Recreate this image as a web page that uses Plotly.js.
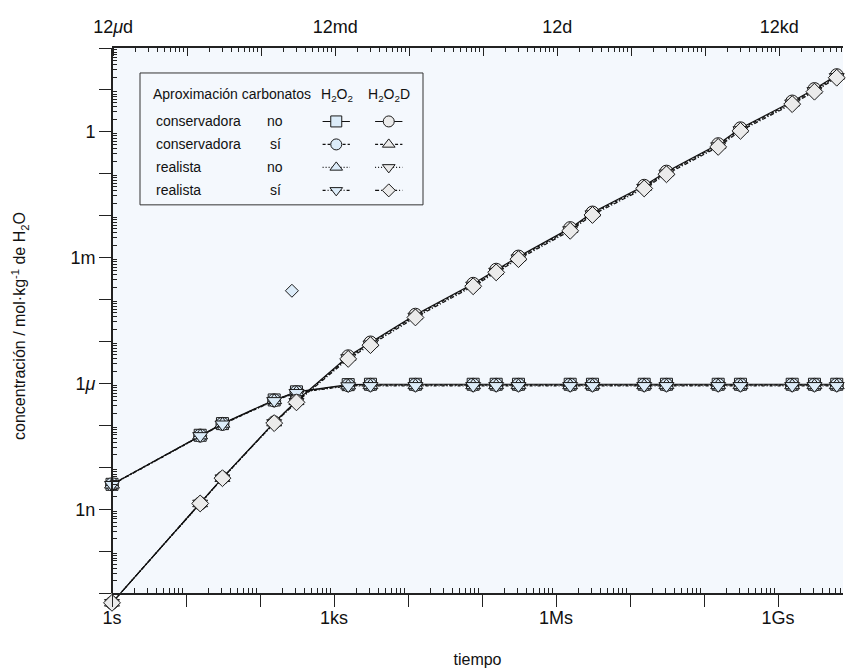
<!DOCTYPE html>
<html><head><meta charset="utf-8">
<script src="https://cdn.plot.ly/plotly-3.0.1.min.js"></script>
<style>body{margin:0;background:#fff}</style>
</head><body><div id="chart" style="width:846px;height:671px"></div>
<script>
const FONT = '"Liberation Sans", Arial, sans-serif';

// ---- data ----
const tiempo = [1, 15.55, 31.1, 155.5, 311, 1555, 3110, 12600, 76000, 155500, 311000, 1.555e6, 3.11e6, 1.555e7, 3.11e7, 1.555e8, 3.11e8, 1.555e9, 3.11e9, 6.22e9];

// H2O2
const h2o2_cons_no = [4.0e-9, 5.9e-8, 1.12e-7, 4.1e-7, 6.4e-7, 9.5e-7, 9.7e-7, 9.7e-7, 9.7e-7, 9.7e-7, 9.7e-7, 9.7e-7, 9.7e-7, 9.7e-7, 9.7e-7, 9.7e-7, 9.7e-7, 9.7e-7, 9.7e-7, 9.7e-7];
const h2o2_cons_si = [4.0e-9, 5.8e-8, 1.1e-7, 4.0e-7, 6.3e-7, 9.2e-7, 9.4e-7, 9.4e-7, 9.4e-7, 9.4e-7, 9.4e-7, 9.4e-7, 9.4e-7, 9.4e-7, 9.4e-7, 9.4e-7, 9.4e-7, 9.4e-7, 9.4e-7, 9.4e-7];
const h2o2_real_no = [3.9e-9, 5.8e-8, 1.1e-7, 4.0e-7, 6.2e-7, 9.0e-7, 9.1e-7, 9.1e-7, 9.1e-7, 9.1e-7, 9.1e-7, 9.1e-7, 9.1e-7, 9.1e-7, 9.1e-7, 9.1e-7, 9.1e-7, 9.1e-7, 9.1e-7, 9.1e-7];
const h2o2_real_si = [3.9e-9, 5.7e-8, 1.08e-7, 3.9e-7, 6.1e-7, 8.8e-7, 8.9e-7, 8.9e-7, 8.9e-7, 8.9e-7, 8.9e-7, 8.9e-7, 8.9e-7, 8.9e-7, 8.9e-7, 8.9e-7, 8.9e-7, 8.9e-7, 8.9e-7, 8.9e-7];

// H2O2D
const h2o2d_cons_no = [6e-12, 1.4e-9, 5.7e-9, 1.2e-7, 3.9e-7, 4.5e-6, 9.6e-6, 4.4e-5, 2.4e-4, 5.2e-4, 1.07e-3, 5.1e-3, 1.2e-2, 5.2e-2, 0.113, 0.51, 1.22, 5.3, 10.5, 22.5];
const h2o2d_cons_si = [6e-12, 1.4e-9, 5.6e-9, 1.18e-7, 3.8e-7, 4.3e-6, 9.1e-6, 4.2e-5, 2.3e-4, 4.9e-4, 1.02e-3, 4.8e-3, 1.15e-2, 4.9e-2, 0.108, 0.48, 1.17, 5.0, 10.0, 21.5];
const h2o2d_real_no = [6e-12, 1.4e-9, 5.6e-9, 1.16e-7, 3.7e-7, 4.1e-6, 8.7e-6, 4.0e-5, 2.2e-4, 4.7e-4, 9.8e-4, 4.6e-3, 1.1e-2, 4.7e-2, 0.103, 0.46, 1.11, 4.8, 9.5, 20.5];
const h2o2d_real_si = [6e-12, 1.4e-9, 5.6e-9, 1.15e-7, 3.6e-7, 3.9e-6, 8.3e-6, 3.8e-5, 2.1e-4, 4.5e-4, 9.3e-4, 4.4e-3, 1.05e-2, 4.5e-2, 0.098, 0.44, 1.06, 4.6, 9.1, 19.6];

// isolated point
const tiempoAislado = [270];
const valorAislado = [1.64e-4];

// legend table text
const cabecera = 'Aproximación carbonatos';
const columnas = ['H<sub>2</sub>O<sub>2</sub>', 'H<sub>2</sub>O<sub>2</sub>D'];
const filasAprox = ['conservadora', 'conservadora', 'realista', 'realista'];
const filasCarb = ['no', 'sí', 'no', 'sí'];

// axis tick labels
const xTickVals = [1, 10, 100, 1e3, 1e4, 1e5, 1e6, 1e7, 1e8, 1e9];
const xTickText = ['1s', '', '', '1ks', '', '', '1Ms', '', '', '1Gs'];
const topTickVals = [1.0368, 10.368, 103.68, 1036.8, 10368, 103680, 1.0368e6, 1.0368e7, 1.0368e8, 1.0368e9];
const topTickText = ['12<i>μ</i>d', '', '', '12md', '', '', '12d', '', '', '12kd'];
const yTickVals = [1e-11, 1e-10, 1e-9, 1e-8, 1e-7, 1e-6, 1e-5, 1e-4, 1e-3, 1e-2, 1e-1, 1, 10, 100];
const yTickText = ['', '', '1n', '', '', '1<i>μ</i>', '', '', '1m', '', '', '1', '', ''];

// ---- styles ----
const FILL_A = '#dcecf9', FILL_B = '#ebebeb', EDGE = '#1a1a1a', BG = '#f4f8fd';
const series = [
  {y: h2o2_cons_no, sym: 'square', dash: 'solid', fill: FILL_A, size: 12, col: 0, row: 0},
  {y: h2o2_cons_si, sym: 'circle', dash: '3px,2px', fill: FILL_A, size: 13, col: 0, row: 1},
  {y: h2o2_real_no, sym: 'triangle-up', dash: '1px,2px', fill: FILL_A, size: 13, col: 0, row: 2},
  {y: h2o2_real_si, sym: 'triangle-down', dash: '3px,2px,1px,2px', fill: FILL_A, size: 13, col: 0, row: 3},
  {y: h2o2d_cons_no, sym: 'circle', dash: 'solid', fill: FILL_B, size: 13, col: 1, row: 0},
  {y: h2o2d_cons_si, sym: 'triangle-up', dash: '3px,2px', fill: FILL_B, size: 13, col: 1, row: 1},
  {y: h2o2d_real_no, sym: 'triangle-down', dash: '1px,2px', fill: FILL_B, size: 13, col: 1, row: 2},
  {y: h2o2d_real_si, sym: 'diamond', dash: '4px,2px,1px,2px', fill: FILL_B, size: 13, col: 1, row: 3}
];

const traces = [];
// hidden trace to bind the top (day) axis
traces.push({type: 'scatter', mode: 'markers', x: tiempo, y: h2o2_real_si, xaxis: 'x2', yaxis: 'y',
  marker: {opacity: 0}, hoverinfo: 'skip', showlegend: false});
series.forEach(s => {
  traces.push({
    type: 'scatter', mode: 'lines+markers', x: tiempo, y: s.y,
    xaxis: 'x', yaxis: 'y', cliponaxis: false, showlegend: false,
    line: {color: '#111', width: 1.2, dash: s.dash},
    marker: {symbol: s.sym, size: s.size, color: s.fill, line: {color: EDGE, width: 1}}
  });
});
traces.push({
  type: 'scatter', mode: 'markers', x: tiempoAislado, y: valorAislado,
  xaxis: 'x', yaxis: 'y', showlegend: false,
  marker: {symbol: 'diamond', size: 10, color: FILL_A, line: {color: EDGE, width: 1}}
});
// legend symbols (own small axes: x = column, y = row)
series.forEach(s => {
  traces.push({
    type: 'scatter', mode: 'lines+markers',
    x: [s.col - 0.26, s.col, s.col + 0.26], y: [s.row, s.row, s.row],
    xaxis: 'x3', yaxis: 'y3', showlegend: false, hoverinfo: 'skip',
    line: {color: '#111', width: 1.1, dash: s.dash},
    marker: {symbol: s.sym, size: s.sym === 'diamond' ? 10 : 11, color: s.fill, opacity: [0, 1, 0], line: {color: EDGE, width: 1}}
  });
});

// ---- layout ----
const L = 112, T = 48, PW = 731, DEC = 42;
const Y0 = -11.25, Y1 = 2;               // log range (axis line drawn at 1e-11)
const PH = (Y1 - Y0) * DEC;
const AXB = T + (Y1 + 11) * DEC;         // pixel row of the x axis line
const px = v => (v - L) / PW;
const py = v => (T + PH - v) / PH;

const minorX = [], minorTop = [], minorY = [];
for (let k = 0; k < 11; k++) for (let m = 2; m <= 9; m++) { minorX.push(m * Math.pow(10, k)); minorTop.push(1.0368 * m * Math.pow(10, k)); }
for (let k = -11; k < 2; k++) for (let m = 2; m <= 9; m++) minorY.push(m * Math.pow(10, k));

const axisCommon = {type: 'log', showgrid: false, zeroline: false, tickcolor: '#222', tickwidth: 1, linecolor: '#222', linewidth: 2};
const tickFont = {family: FONT, size: 18, color: '#111'};
const legFont = {family: FONT, size: 14, color: '#111'};

const annotations = [];
annotations.push({xref: 'paper', yref: 'paper', x: px(151), y: py(94), xanchor: 'left', yanchor: 'middle', text: cabecera, showarrow: false, font: legFont});
columnas.forEach((c, i) => annotations.push({xref: 'paper', yref: 'paper', x: px(i === 0 ? 337 : 389), y: py(95), xanchor: 'center', yanchor: 'middle', text: c, showarrow: false, font: legFont}));
filasAprox.forEach((t, i) => {
  const yy = py(121.5 + 23 * i);
  annotations.push({xref: 'paper', yref: 'paper', x: px(154), y: yy, xanchor: 'left', yanchor: 'middle', text: t, showarrow: false, font: legFont});
  annotations.push({xref: 'paper', yref: 'paper', x: px(275), y: yy, xanchor: 'center', yanchor: 'middle', text: filasCarb[i], showarrow: false, font: legFont});
});

const layout = {
  width: 846, height: 671,
  margin: {l: L, r: 846 - L - PW, t: T, b: 671 - T - PH, pad: 0},
  paper_bgcolor: '#ffffff', plot_bgcolor: 'rgba(0,0,0,0)',
  font: {family: FONT, color: '#111'},
  showlegend: false,
  xaxis: Object.assign({}, axisCommon, {
    anchor: 'free', position: py(AXB),
    range: [0, PW / 74], tickmode: 'array', tickvals: xTickVals, ticktext: xTickText,
    ticks: 'outside', ticklen: 12, tickfont: tickFont, showline: true, ticklabelstandoff: -4,
    minor: {tickmode: 'array', tickvals: minorX, ticks: 'inside', ticklen: 5, tickcolor: '#222', tickwidth: 1},
    title: {text: 'tiempo', font: {family: FONT, size: 16, color: '#111'}, standoff: 26}
  }),
  xaxis2: Object.assign({}, axisCommon, {
    overlaying: 'x', side: 'top', anchor: 'y',
    range: [0, PW / 74], tickmode: 'array', tickvals: topTickVals, ticktext: topTickText,
    ticks: 'inside', ticklen: 8, tickfont: tickFont, showline: true, ticklabelstandoff: 6,
    minor: {tickmode: 'array', tickvals: minorTop, ticks: 'inside', ticklen: 4, tickcolor: '#222', tickwidth: 1}
  }),
  yaxis: Object.assign({}, axisCommon, {
    range: [Y0, Y1], tickmode: 'array', tickvals: yTickVals, ticktext: yTickText,
    ticks: 'outside', ticklen: 12, tickfont: tickFont, showline: false,
    minor: {tickmode: 'array', tickvals: minorY, ticks: 'inside', ticklen: 5, tickcolor: '#222', tickwidth: 1},
    title: {text: 'concentración / mol·kg<sup>-1</sup> de H<sub>2</sub>O', font: {family: FONT, size: 16, color: '#111'}, standoff: 40}
  }),
  yaxis2: Object.assign({}, axisCommon, {
    overlaying: 'y', side: 'right', anchor: 'x',
    range: [Y0, Y1], tickmode: 'array', tickvals: yTickVals, ticks: 'inside', ticklen: 6,
    showticklabels: false, showline: false
  }),
  xaxis3: {domain: [px(310), px(415)], range: [-0.5, 1.5], anchor: 'y3', visible: false, fixedrange: true},
  yaxis3: {domain: [py(202), py(110)], range: [3.5, -0.5], anchor: 'x3', visible: false, fixedrange: true},
  shapes: [
    {type: 'rect', xref: 'paper', yref: 'paper', x0: 0, x1: 1, y0: py(AXB), y1: 1, line: {width: 0}, fillcolor: BG, layer: 'below'},
    {type: 'line', xref: 'paper', yref: 'paper', x0: 0, x1: 0, y0: py(AXB), y1: 1, line: {color: '#222', width: 2}, layer: 'above'},
    {type: 'rect', xref: 'paper', yref: 'paper', x0: px(140), x1: px(423), y0: py(205), y1: py(73), line: {color: '#333', width: 1}, fillcolor: 'rgba(0,0,0,0)', layer: 'above'}
  ],
  annotations: annotations
};

Plotly.newPlot('chart', traces, layout, {staticPlot: true, displayModeBar: false});
</script></body></html>
